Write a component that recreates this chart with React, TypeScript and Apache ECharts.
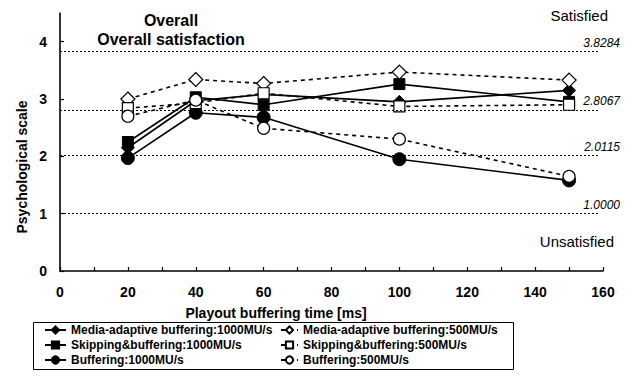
import React, { useEffect, useRef } from "react";
import * as echarts from "echarts";

const xValues = [20, 40, 60, 100, 150];
const mediaAdaptive1000 = [2.15, 2.97, 3.08, 2.95, 3.15];
const skipping1000 = [2.25, 3.03, 2.9, 3.26, 2.95];
const buffering1000 = [1.97, 2.76, 2.68, 1.95, 1.58];
const mediaAdaptive500 = [3.0, 3.34, 3.27, 3.47, 3.33];
const skipping500 = [2.84, 2.93, 3.1, 2.87, 2.9];
const buffering500 = [2.7, 2.98, 2.49, 2.3, 1.65];
const scaleValues = [3.8284, 2.8067, 2.0115, 1.0];
const scaleLabels = ["3.8284", "2.8067", "2.0115", "1.0000"];
const xTickValues = [0, 10, 20, 30, 40, 50, 60, 70, 80, 90, 100, 110, 120, 130, 140, 150, 160];
const xLabelValues = [0, 20, 40, 60, 80, 100, 120, 140, 160];
const yTickValues = [0, 1, 2, 3, 4];

const FONT = "'Liberation Sans', Arial, sans-serif";

const pairs = (ys: number[]) => xValues.map((x, i) => [x, ys[i]]);

export default function App() {
  const ref = useRef<HTMLDivElement>(null);
  useEffect(() => {
    if (!ref.current) return;
    const chart = echarts.init(ref.current, null, { renderer: "svg" });
    const solid = { color: "#000", width: 1.6, type: "solid" as const };
    const dashed = { color: "#000", width: 1.6, type: [4, 4] as any };
    const mk = (name: string, ys: number[], symbol: string, size: number, open: boolean) => ({
      name,
      type: "line",
      data: pairs(ys),
      symbol,
      symbolSize: size,
      showSymbol: true,
      lineStyle: open ? dashed : solid,
      itemStyle: open
        ? { color: "#fff", borderColor: "#000", borderWidth: 1.2 }
        : { color: "#000", borderColor: "#000", borderWidth: 1 },
      z: open ? 4 : 3,
    });
    const series: any[] = [
      {
        name: "ref",
        type: "line",
        data: [],
        silent: true,
        markLine: {
          symbol: ["none", "none"],
          silent: true,
          label: { show: false },
          lineStyle: { color: "#000", width: 1, type: [2, 2] },
          data: scaleValues.map((v) => [
            { coord: [0, v] },
            { coord: [159, v] },
          ]),
        },
      },
      mk("Media-adaptive buffering:1000MU/s", mediaAdaptive1000, "diamond", 13, false),
      mk("Skipping&buffering:1000MU/s", skipping1000, "rect", 11, false),
      mk("Buffering:1000MU/s", buffering1000, "circle", 13, false),
      mk("Media-adaptive buffering:500MU/s", mediaAdaptive500, "diamond", 14, true),
      mk("Skipping&buffering:500MU/s", skipping500, "rect", 11, true),
      mk("Buffering:500MU/s", buffering500, "circle", 12, true),
    ];
    const legendText = { fontFamily: FONT, fontSize: 12, fontWeight: "bold" as const, color: "#000", lineHeight: 12 };
    const option: any = {
      animation: false,
      backgroundColor: "#fff",
      grid: { left: 60, right: 28, top: 13, bottom: 108, containLabel: false },
      xAxis: {
        type: "value",
        min: 0,
        max: 160,
        interval: 20,
        axisLine: { show: true, lineStyle: { color: "#000", width: 1.6 } },
        axisTick: { show: true, inside: true, length: 4, customValues: xTickValues, lineStyle: { color: "#000", width: 1.2 } },
        axisLabel: { customValues: xLabelValues, color: "#000", fontFamily: FONT, fontWeight: "bold", fontSize: 14, margin: 14 },
        splitLine: { show: false },
      },
      yAxis: {
        type: "value",
        min: 0,
        max: 4.5,
        interval: 1,
        axisLine: { show: true, lineStyle: { color: "#000", width: 1.6 } },
        axisTick: { show: true, inside: true, length: 4, customValues: yTickValues, lineStyle: { color: "#000", width: 1.2 } },
        axisLabel: { customValues: yTickValues, color: "#000", fontFamily: FONT, fontWeight: "bold", fontSize: 14, margin: 13 },
        splitLine: { show: false },
      },
      legend: [
        {
          orient: "vertical",
          left: 44,
          top: 324,
          itemWidth: 21,
          itemHeight: 9,
          itemGap: 3,
          padding: 0,
          textStyle: legendText,
          data: series.slice(1, 4).map((s) => s.name),
        },
        {
          orient: "vertical",
          left: 280,
          top: 324,
          itemWidth: 17,
          itemHeight: 9,
          itemGap: 3,
          padding: 0,
          textStyle: legendText,
          data: series.slice(4, 7).map((s) => s.name),
        },
      ],
      series,
    };
    chart.setOption(option);

    const scaleTexts = scaleValues.map((v, i) => {
      const p = chart.convertToPixel({ gridIndex: 0 }, [0, v]) as number[];
      return {
        type: "text",
        x: 620,
        y: p[1] - 9,
        style: {
          text: scaleLabels[i],
          align: "right",
          verticalAlign: "middle",
          font: `italic 12px ${FONT}`,
          fill: "#000",
        },
      };
    });

    chart.setOption({
      graphic: [
        { type: "rect", shape: { x: 33.5, y: 322.5, width: 480, height: 47 }, style: { fill: "none", stroke: "#000", lineWidth: 1 }, z: -1 },
        { type: "text", x: 171, y: 20, style: { text: "Overall", align: "center", verticalAlign: "middle", font: `bold 16px ${FONT}`, fill: "#000" } },
        { type: "text", x: 171, y: 39, style: { text: "Overall satisfaction", align: "center", verticalAlign: "middle", font: `bold 16px ${FONT}`, fill: "#000" } },
        { type: "text", x: 608, y: 15, style: { text: "Satisfied", align: "right", verticalAlign: "middle", font: `15px ${FONT}`, fill: "#000" } },
        { type: "text", x: 614, y: 241, style: { text: "Unsatisfied", align: "right", verticalAlign: "middle", font: `15px ${FONT}`, fill: "#000" } },
        { type: "text", x: 276, y: 313, style: { text: "Playout buffering time [ms]", align: "center", verticalAlign: "middle", font: `bold 14px ${FONT}`, fill: "#000" } },
        { type: "text", x: 22, y: 167, rotation: Math.PI / 2, style: { text: "Psychological scale", align: "center", verticalAlign: "middle", font: `bold 14px ${FONT}`, fill: "#000" } },
        ...scaleTexts,
      ],
    });
    return () => chart.dispose();
  }, []);
  return <div ref={ref} style={{ position: "fixed", left: 0, top: 0, width: 631, height: 379, background: "#fff" }} />;
}
